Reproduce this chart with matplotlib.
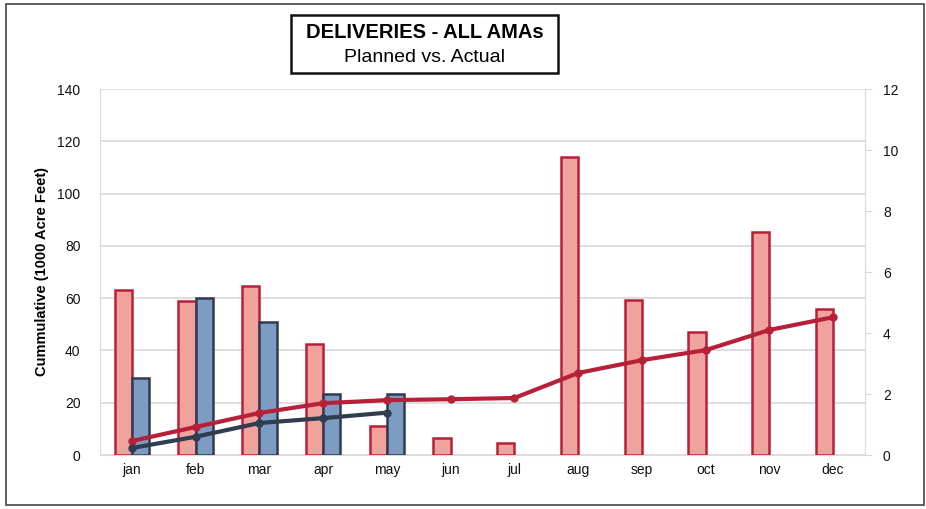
import matplotlib
matplotlib.use("Agg")
import matplotlib.pyplot as plt
import numpy as np
from matplotlib.patches import Rectangle

months = ["jan", "feb", "mar", "apr", "may", "jun", "jul", "aug", "sep", "oct", "nov", "dec"]
planned_monthly = [63, 59, 64.5, 42.5, 11, 6.5, 4.7, 114, 59.5, 47, 85.5, 56]
actual_monthly = [29.5, 60, 51, 23.5, 23.5]
planned_cum = [0.46, 0.92, 1.38, 1.70, 1.80, 1.83, 1.87, 2.69, 3.11, 3.44, 4.10, 4.52]
actual_cum = [0.23, 0.60, 1.05, 1.21, 1.39]

left_ticks = [0, 20, 40, 60, 80, 100, 120, 140]
right_ticks = [0, 2, 4, 6, 8, 10, 12]

RED_EDGE = "#b8203a"
RED_FILL = "#efa39c"
BLUE_EDGE = "#2f3d4f"
BLUE_FILL = "#7d9cc3"
GRID = "#d9d9d9"

plt.rcParams["font.family"] = ["Liberation Sans", "DejaVu Sans"]

fig = plt.figure(figsize=(9.26, 5.09), dpi=100)
ax = fig.add_axes([0.108, 0.106, 0.826, 0.719])
ax2 = ax.twinx()

x = np.arange(len(months))
w = 0.27
ax.bar(x - w / 2, planned_monthly, width=w, color=RED_FILL, edgecolor=RED_EDGE,
       linewidth=1.8, zorder=3)
xa = np.arange(len(actual_monthly))
ax.bar(xa + w / 2, actual_monthly, width=w, color=BLUE_FILL, edgecolor=BLUE_EDGE,
       linewidth=1.8, zorder=3)

ax.set_xlim(-0.5, len(months) - 0.5)
ax.set_ylim(0, 140)
ax.set_yticks(left_ticks)
ax.set_xticks(x)
ax.set_xticklabels(months)
ax.grid(axis="y", color=GRID, linewidth=1.2, zorder=0)
ax.set_axisbelow(True)
for s in ["top", "right"]:
    ax.spines[s].set_visible(False)
ax.spines["left"].set_color(GRID)
ax.spines["bottom"].set_color(GRID)
ax.tick_params(axis="both", length=0, labelsize=10, colors="#111111")
ax.tick_params(axis="y", pad=14)
ax.tick_params(axis="x", pad=6)

ax2.set_ylim(0, 12)
ax2.set_yticks(right_ticks)
ax2.plot(x, planned_cum, color=RED_EDGE, linewidth=3, marker="o", markersize=5,
         zorder=5)
ax2.plot(xa, actual_cum, color=BLUE_EDGE, linewidth=3, marker="o", markersize=5,
         zorder=5)
for s in ["top", "left", "bottom"]:
    ax2.spines[s].set_visible(False)
ax2.spines["right"].set_color(GRID)
ax2.tick_params(axis="y", length=5, color=GRID, labelsize=10, pad=8,
                labelcolor="#111111")

fig.text(0.045, 1 - 271 / 509, "Cummulative (1000 Acre Feet)", rotation=90,
         ha="center", va="center", fontsize=10.5, fontweight="bold")

# Title box
fig.patches.append(Rectangle((291 / 926, 1 - 73 / 509), 267 / 926, 58 / 509,
                             transform=fig.transFigure, fill=False,
                             edgecolor="#111111", linewidth=1.8))
fig.text(425 / 926, 1 - 33 / 509, "DELIVERIES - ALL AMAs", ha="center",
         va="center", fontsize=14.5, fontweight="bold")
fig.text(424 / 926, 1 - 57 / 509, "Planned vs. Actual", ha="center",
         va="center", fontsize=14)

# Outer frame
fig.patches.append(Rectangle((6 / 926, 4 / 509), 918 / 926, 501 / 509,
                             transform=fig.transFigure, fill=False,
                             edgecolor="#444444", linewidth=1.2))

fig.savefig("out.png", dpi=100)
